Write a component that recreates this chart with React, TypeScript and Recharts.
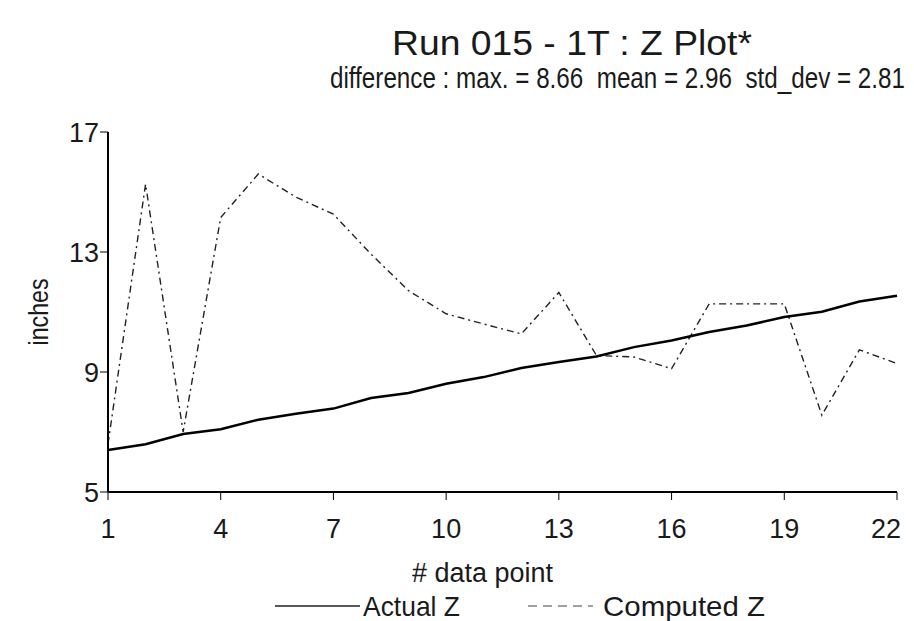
import React from 'react';
import { LineChart, Line, XAxis, YAxis } from 'recharts';

const dataPoints = [1, 2, 3, 4, 5, 6, 7, 8, 9, 10, 11, 12, 13, 14, 15, 16, 17, 18, 19, 20, 21, 22];
const actualZ = [6.4, 6.59, 6.93, 7.09, 7.41, 7.61, 7.78, 8.13, 8.3, 8.61, 8.83, 9.13, 9.33, 9.52, 9.83, 10.05, 10.33, 10.55, 10.83, 11.01, 11.35, 11.54];
const computedZ = [6.6, 15.26, 7.0, 14.15, 15.6, 14.83, 14.26, 12.93, 11.71, 10.94, 10.6, 10.27, 11.65, 9.55, 9.5, 9.11, 11.27, 11.27, 11.27, 7.56, 9.74, 9.28];
const xTicks = [1, 4, 7, 10, 13, 16, 19, 22];
const yTicks = [5, 9, 13, 17];

const chartData = dataPoints.map((p, i) => ({ point: p, actual: actualZ[i], computed: computedZ[i] }));

const font = '"Liberation Sans", Arial, sans-serif';
const ink = '#1a1a1a';

// x labels: last one pulled left so it stays inside the frame
const XTick = ({ x, y, payload }: any) => {
  const last = payload.value === xTicks[xTicks.length - 1];
  return (
    <text x={last ? x + 4 : x} y={y} dy={36} textAnchor={last ? 'end' : 'middle'}
      fontFamily={font} fontSize={27} fill={ink}>{payload.value}</text>
  );
};

const YTick = ({ x, y, payload }: any) => (
  <text x={x} y={y} dy={10} textAnchor="end" fontFamily={font} fontSize={27} fill={ink}>{payload.value}</text>
);

const NoLabel = () => <g />;

export default function App() {
  return (
    <div style={{ position: 'relative', width: 914, height: 621, background: '#fff' }}>
      <style>{'body{margin:0}'}</style>
      <LineChart width={914} height={621} data={chartData} margin={{ top: 132, right: 17, bottom: 0, left: 0 }}>
        <XAxis dataKey="point" type="number" domain={[1, 22]} ticks={xTicks} height={129}
          axisLine={{ stroke: '#000', strokeWidth: 2 }} tickLine={{ stroke: '#000' }} tickSize={8} tickMargin={2}
          tick={<XTick />} />
        <YAxis type="number" domain={[5, 17]} ticks={yTicks} width={108} interval={0}
          axisLine={{ stroke: '#000', strokeWidth: 2 }} tickLine={{ stroke: '#000' }} tickSize={8} tickMargin={1}
          tick={<YTick />} />
        {/* inner half of the crossing tick marks */}
        <XAxis xAxisId="in" dataKey="point" type="number" domain={[1, 22]} ticks={xTicks} height={0} mirror
          axisLine={false} tickLine={{ stroke: '#000' }} tickSize={6} tick={<NoLabel />} />
        <YAxis yAxisId="in" type="number" domain={[5, 17]} ticks={yTicks} width={0} mirror interval={0}
          axisLine={false} tickLine={{ stroke: '#000' }} tickSize={6} tick={<NoLabel />} />
        <XAxis xAxisId="top" orientation="top" dataKey="point" type="number" domain={[1, 22]} height={0}
          tick={false} tickLine={false} axisLine={{ stroke: '#000', strokeWidth: 2 }} />
        <YAxis yAxisId="right" orientation="right" type="number" domain={[5, 17]} width={0}
          tick={false} tickLine={false} axisLine={{ stroke: '#222', strokeWidth: 1.2 }} />
        <Line type="linear" dataKey="computed" stroke="#222" strokeWidth={1.4} strokeDasharray="7 4 2 4"
          dot={false} isAnimationActive={false} />
        <Line type="linear" dataKey="actual" stroke="#000" strokeWidth={2.5} dot={false} isAnimationActive={false} />
      </LineChart>
      <svg width={914} height={621} style={{ position: 'absolute', left: 0, top: 0, pointerEvents: 'none' }}
        fontFamily={font} fill={ink}>
        <text x={392} y={55} fontSize={35} textLength={360} lengthAdjust="spacingAndGlyphs">Run 015 - 1T : Z Plot*</text>
        <text x={330} y={88} fontSize={24.5} textLength={575} lengthAdjust="spacingAndGlyphs" xmlSpace="preserve"
          transform="translate(0 88) scale(1 1.2) translate(0 -88)">
          {'difference : max. = 8.66  mean = 2.96  std_dev = 2.81'}
        </text>
        <text x={39} y={312} transform="rotate(-90 39 312)" textAnchor="middle" dominantBaseline="central"
          fontSize={27} textLength={67} lengthAdjust="spacingAndGlyphs">inches</text>
        <text x={412} y={582} fontSize={27} textLength={141} lengthAdjust="spacingAndGlyphs"># data point</text>
        <line x1={275} y1={606} x2={360} y2={606} stroke="#222" strokeWidth={1.5} />
        <text x={363} y={616} fontSize={28} textLength={97} lengthAdjust="spacingAndGlyphs">Actual Z</text>
        <line x1={528} y1={606} x2={593} y2={606} stroke="#444" strokeWidth={1.2} strokeDasharray="9 6" />
        <text x={603} y={616} fontSize={28} textLength={162} lengthAdjust="spacingAndGlyphs">Computed Z</text>
      </svg>
    </div>
  );
}
